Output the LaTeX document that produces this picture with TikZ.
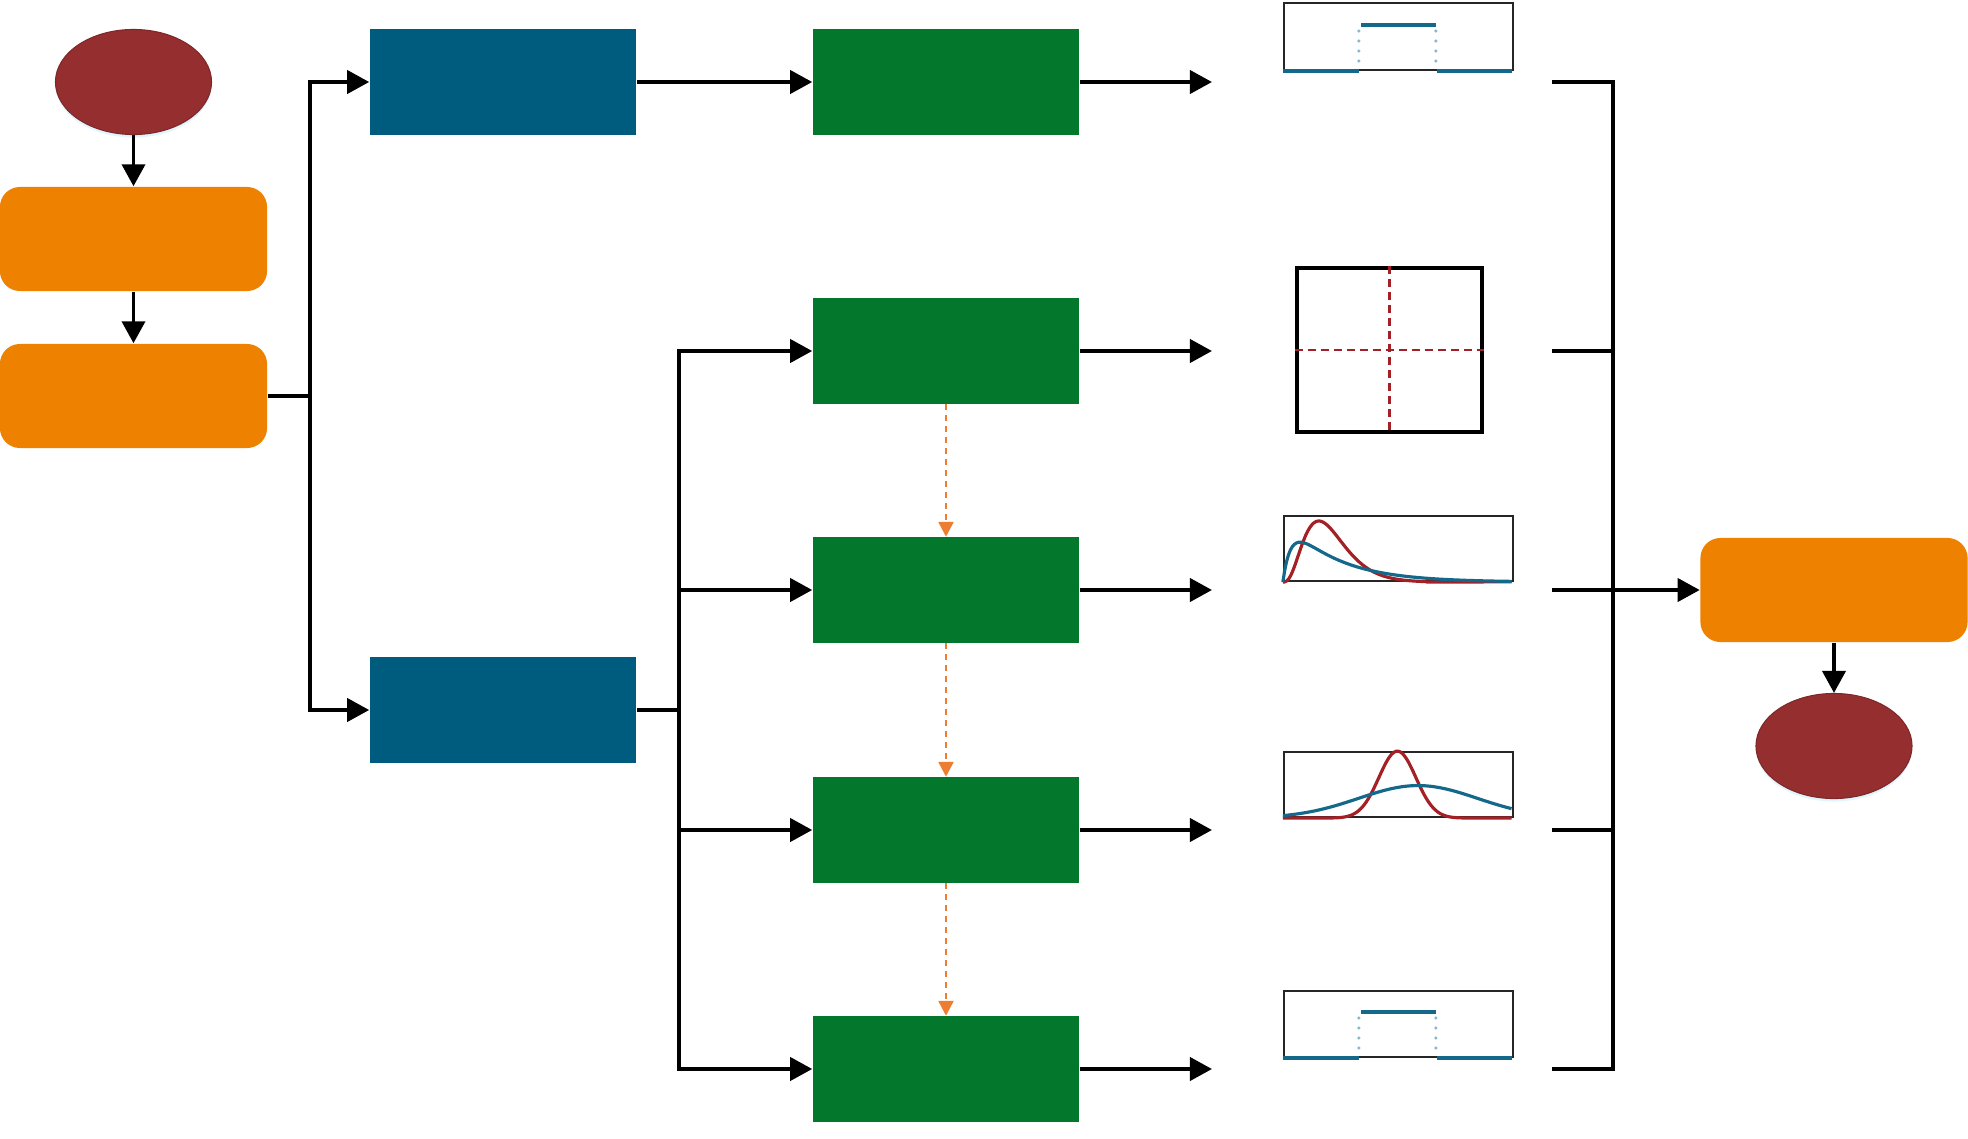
\documentclass[tikz,border=0pt]{standalone}
\usetikzlibrary{shapes.geometric,arrows.meta,shadows}

\definecolor{rougeFin}{HTML}{952E2F}
\definecolor{orangeEtape}{HTML}{EE8100}
\definecolor{bleuBranche}{HTML}{005C7E}
\definecolor{vertModele}{HTML}{03782D}
\definecolor{orangeTirets}{HTML}{ED7D31}
\definecolor{bleuCourbe}{HTML}{14688A}
\definecolor{rougeCourbe}{HTML}{A32126}
\definecolor{bleuPoint}{HTML}{86B8D0}

\tikzset{
  terminal/.style={ellipse, fill=rougeFin, draw=rougeFin!85!black, line width=0.3pt,
    minimum width=1.56cm, minimum height=1.05cm, inner sep=0pt,
    drop shadow={shadow xshift=0pt, shadow yshift=-0.03cm, fill=cyan!12, opacity=1}},
  etape/.style={rectangle, rounded corners=0.2cm, fill=orangeEtape,
    minimum width=2.67cm, minimum height=1.04cm, inner sep=0pt},
  branche/.style={rectangle, fill=bleuBranche, minimum width=2.66cm, minimum height=1.05cm, inner sep=0pt},
  modele/.style={rectangle, fill=vertModele, minimum width=2.66cm, minimum height=1.05cm, inner sep=0pt},
  cadre/.style={rectangle, draw=black!85, line width=0.6pt, inner sep=0pt},
  trait/.style={line width=1.1pt},
  fleche/.style={trait, -{Triangle[length=0.22cm,width=0.23cm]}},
  tirets/.style={orangeTirets, line width=0.7pt, dash pattern=on 0.06cm off 0.05cm,
    -{Triangle[length=0.15cm,width=0.15cm]}},
  courbe/.style={line width=0.9pt, smooth},
}

\begin{document}
\begin{tikzpicture}[x=0.01cm, y=-0.01cm]
    \pgfmathsetmacro{\xGauche}{133.5}   % colonne de gauche
    \pgfmathsetmacro{\xBranche}{503}    % colonne des branches
    \pgfmathsetmacro{\xModele}{946}     % colonne des modeles
    \pgfmathsetmacro{\xLoi}{1398.5}     % colonne des lois
    \pgfmathsetmacro{\xFin}{1834}       % colonne de droite

    \useasboundingbox (0,0) rectangle (1968,1139);

    % Colonne de gauche
    \node[terminal] (debut) at (\xGauche,82) {};
    \node[etape] (prep) at (\xGauche,239) {};
    \node[etape] (pretrait) at (\xGauche,396) {};
    \draw[fleche] (debut) -- (prep);
    \draw[fleche] (prep) -- (pretrait);

    % Deux branches
    \node[branche] (brancheA) at (\xBranche,82) {};
    \node[branche] (brancheB) at (\xBranche,710) {};
    \coordinate (noeudA) at (310,396);
    \draw[trait] (pretrait.east) -- (noeudA);
    \draw[fleche] (noeudA) |- (brancheA.west);
    \draw[fleche] (noeudA) |- (brancheB.west);

    % Modele du haut
    \node[modele] (modA) at (\xModele,82) {};
    \draw[fleche] (brancheA) -- (modA);

    % Modeles en serie
    \coordinate (noeudB) at (679,710);
    \draw[trait] (brancheB.east) -- (noeudB);
    \foreach \i/\y in {1/351,2/590,3/830,4/1069}{
        \node[modele] (mod\i) at (\xModele,\y) {};
        \draw[fleche] (noeudB) |- (mod\i.west);
    }
    \foreach \i [count=\j from 2] in {1,2,3}
        \draw[tirets] (mod\i) -- (mod\j);

    % Sorties vers les lois
    \foreach \nom/\y in {modA/82, mod1/351, mod2/590, mod3/830, mod4/1069}{
        \coordinate (entree-\nom) at (1212,\y);
        \coordinate (sortie-\nom) at (1552,\y);
        \draw[fleche] (\nom.east) -- (entree-\nom);
    }

    % Encadres des lois
    \node[cadre, minimum width=2.29cm, minimum height=0.67cm] (loiA) at (\xLoi,36.5) {};
    \node[cadre, draw=black, line width=1.3pt, minimum width=1.85cm, minimum height=1.64cm] (loiB) at (1389.5,350) {};
    \node[cadre, minimum width=2.29cm, minimum height=0.65cm] (loiC) at (\xLoi,548.5) {};
    \node[cadre, minimum width=2.29cm, minimum height=0.65cm] (loiD) at (\xLoi,784.5) {};
    \node[cadre, minimum width=2.29cm, minimum height=0.66cm] (loiE) at (\xLoi,1024) {};

    % Lois uniformes
    \foreach \cad in {loiA,loiE}{
        \begin{scope}[shift={(\cad.south west)}]
            \draw[bleuCourbe, line width=0.9pt] (0,0) -- (76,0) (154,0) -- (229,0);
            \draw[bleuCourbe, line width=0.9pt] (78,-46) -- (153,-46);
            \draw[bleuPoint, line width=1pt, line cap=round, dash pattern=on 0pt off 0.1cm]
                (76,-10) -- (76,-45) (153,-10) -- (153,-45);
        \end{scope}
    }

    % Croix en tirets
    \draw[rougeCourbe, line width=0.6pt, dash pattern=on 0.08cm off 0.05cm]
        (loiB.north) -- (loiB.south) (loiB.west) -- (loiB.east);

    % Lois asymetriques
    \begin{scope}[shift={(loiC.south west)}]
        \draw[rougeCourbe, courbe] plot[domain=0:1, samples=120]
            (\x*229, {-65*0.94*(\x/0.157)*(\x/0.157)*(\x/0.157)*exp(3*(1-\x/0.157))});
        \draw[bleuCourbe, courbe] plot[domain=0:1, samples=120]
            (\x*229, {-65*1.02*(1-exp(-\x/0.04))*exp(-\x/0.22)});
    \end{scope}

    % Lois normales
    \begin{scope}[shift={(loiD.south west)}]
        \draw[rougeCourbe, courbe] plot[domain=0:1, samples=100]
            (\x*229, {-65*1.03*exp(-(\x-0.5)*(\x-0.5)/0.013)});
        \draw[bleuCourbe, courbe] plot[domain=0:1, samples=100]
            (\x*229, {-65*0.5*exp(-(\x-0.59)*(\x-0.59)/0.135)});
    \end{scope}

    % Fusion et fin
    \coordinate (fusion) at (1613,590);
    \node[etape] (synthese) at (\xFin,590) {};
    \node[terminal] (fin) at (\xFin,746) {};
    \draw[trait] (sortie-modA) -| (fusion |- sortie-mod4) -- (sortie-mod4);
    \foreach \nom in {mod1,mod3}
        \draw[trait] (sortie-\nom) -- (fusion |- sortie-\nom);
    \draw[fleche] (sortie-mod2) -- (synthese.west);
    \draw[fleche] (synthese) -- (fin);
\end{tikzpicture}
\end{document}
